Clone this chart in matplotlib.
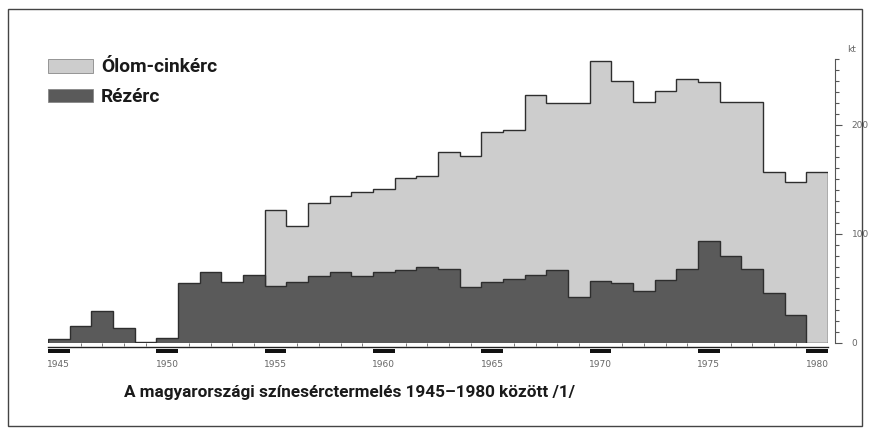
import matplotlib
matplotlib.use("Agg")
import matplotlib.pyplot as plt
from matplotlib.patches import Rectangle
from matplotlib.ticker import MultipleLocator, FixedLocator

# production in kt, one value per year 1945..1980
years = list(range(1945, 1981))
rezerc = [4, 16, 29, 14, 1, 5, 55, 65, 56, 62,
          52, 56, 61, 65, 61, 65, 67, 70, 68, 51,
          56, 59, 62, 67, 42, 57, 55, 48, 58, 68,
          93, 80, 68, 46, 26, 0]
olom_years = list(range(1955, 1981))
olom_cink = [122, 107, 128, 135, 138, 141, 151, 153, 175, 171,
             193, 195, 227, 220, 220, 258, 240, 221, 231, 242,
             239, 221, 221, 157, 147, 157]
label_years = [1945, 1950, 1955, 1960, 1965, 1970, 1975, 1980]
y_ticks = [0, 100, 200]

W, H = 869, 441
LIGHT = "#cdcdcd"
DARK = "#5a5a5a"
EDGE = "#2e2e2e"
FONT = "Roboto"


def px(x, y):
    """pixel (from top-left) -> figure fraction"""
    return x / W, 1 - y / H


fig = plt.figure(figsize=(W / 100, H / 100), dpi=100)
fig.patch.set_facecolor("white")

# frame round the whole picture
x0, y0 = px(8, 426)
x1, y1 = px(862, 9)
fig.add_artist(Rectangle((x0, y0), x1 - x0, y1 - y0, transform=fig.transFigure,
                         fill=False, edgecolor="#444444", linewidth=1.0))

left, top = px(48, 59)
right, bottom = px(828, 343)
ax = fig.add_axes([left, bottom, right - left, top - bottom])

ax.stairs(olom_cink, olom_years + [1981], baseline=0, fill=True,
          facecolor=LIGHT, edgecolor=EDGE, linewidth=1.0)
ax.stairs(rezerc, years + [1981], baseline=0, fill=True,
          facecolor=DARK, edgecolor=EDGE, linewidth=1.0)

for s in ["top", "left", "bottom"]:
    ax.spines[s].set_visible(False)
ax.spines["right"].set_position(("outward", 5))
ax.spines["right"].set_color("#555555")
ax.spines["right"].set_linewidth(0.8)
ax.yaxis.tick_right()
ax.yaxis.set_major_locator(FixedLocator(y_ticks))
ax.yaxis.set_minor_locator(MultipleLocator(10))
ax.tick_params(axis="y", which="major", length=5, width=0.8, color="#555555",
               labelsize=6.5, labelcolor="#666666", pad=7)
ax.tick_params(axis="y", which="minor", length=3, width=0.8, color="#555555")
ax.text(1.03, 1.035, "kt", transform=ax.transAxes, fontsize=6.5, color="#666666",
        ha="center", va="center")

# x axis: year labels under black bars, small ticks between
ax.set_xticks([y + 0.5 for y in label_years])
ax.set_xticklabels([str(y) for y in label_years])
ax.xaxis.set_minor_locator(FixedLocator([y + 0.5 for y in years if y not in label_years]))
ax.tick_params(axis="x", which="major", length=0, labelsize=6.5, labelcolor="#666666", pad=12)
ax.tick_params(axis="x", which="minor", direction="out", length=2.5, width=0.7,
               color="#777777", pad=0)

ax.plot([1945, 1981], [-0.013, -0.013], transform=ax.get_xaxis_transform(),
        color="#222222", linewidth=1.0, clip_on=False)
ax.bar(label_years, [0.014] * len(label_years), width=1, bottom=-0.035, align="edge",
       color="#111111", transform=ax.get_xaxis_transform(), clip_on=False)
ax.set_xlim(1945, 1981)
ax.set_ylim(0, 260)

# legend drawn by hand
for (ya, yb), col, lab in [((59, 73), LIGHT, "Ólom-cinkérc"), ((89, 102), DARK, "Rézérc")]:
    lx0, ly0 = px(48, yb)
    lx1, ly1 = px(93, ya)
    fig.add_artist(Rectangle((lx0, ly0), lx1 - lx0, ly1 - ly0, transform=fig.transFigure,
                             facecolor=col, edgecolor="#888888", linewidth=0.6))
    tx, ty = px(101, (ya + yb) / 2 + 1)
    fig.text(tx, ty, lab, fontsize=13.8, fontweight="bold", family=FONT,
             color="#1a1a1a", ha="left", va="center")

cx, cy = px(124, 393)
fig.text(cx, cy, "A magyarországi színesérctermelés 1945–1980 között /1/",
         fontsize=12.3, fontweight="bold", family=FONT, color="#1a1a1a",
         ha="left", va="center")

fig.savefig("out.png", dpi=100)
